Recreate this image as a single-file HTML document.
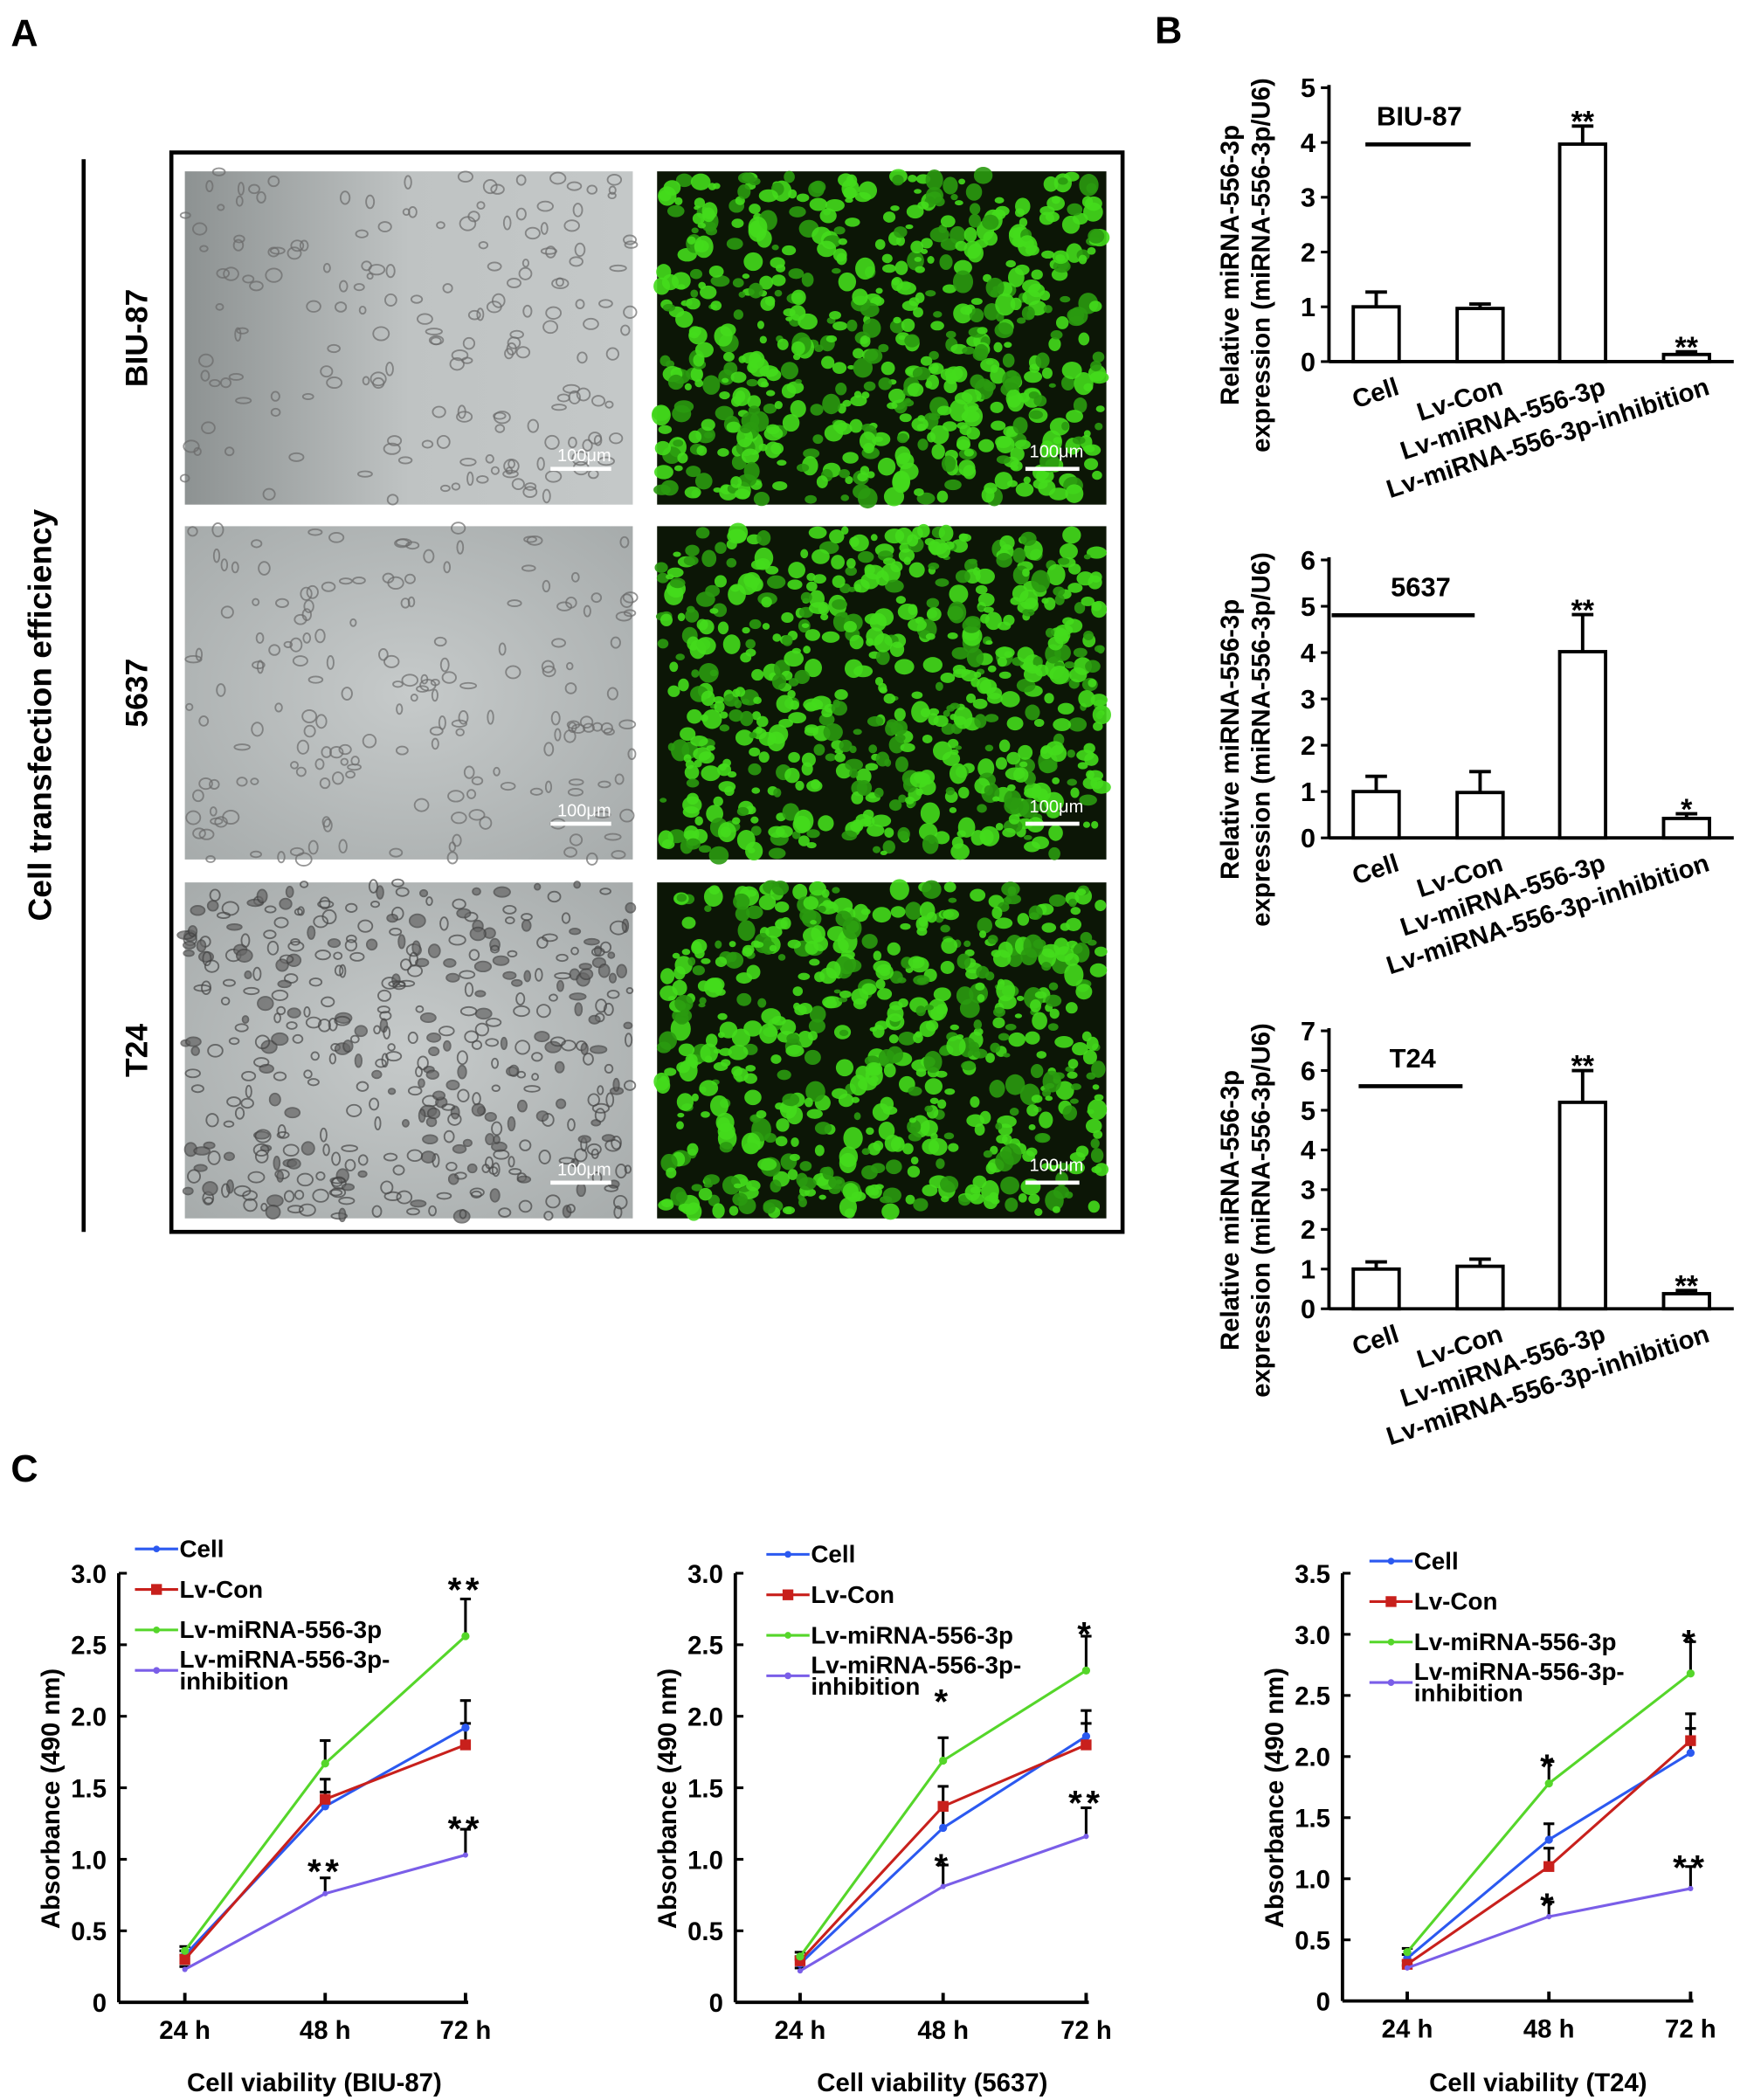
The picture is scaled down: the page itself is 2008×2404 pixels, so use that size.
<!DOCTYPE html>
<html><head><meta charset="utf-8"><style>
html,body{margin:0;padding:0;background:#fff}
svg{display:block;font-family:"Liberation Sans",Arial,sans-serif;font-weight:bold}
</style></head><body>
<svg id="fig" width="2008" height="2404" viewBox="0 0 1300 1556.4" xmlns="http://www.w3.org/2000/svg">
<rect width="1300" height="1556.4" fill="#fff"/>
<g id="panelA"></g>
<g id="panelB"></g>
<g id="panelC"></g>
</svg>
<script>
// ---------- Panel B data ----------
const barCategories = ["Cell","Lv-Con","Lv-miRNA-556-3p","Lv-miRNA-556-3p-inhibition"];
const biuValues = [1.0,0.97,3.97,0.13];
const biuErrors = [0.27,0.08,0.33,0.05];
const biuStars = ["","","**","**"];
const c5637Values = [1.0,0.98,4.02,0.42];
const c5637Errors = [0.33,0.45,0.8,0.1];
const c5637Stars = ["","","**","*"];
const t24Values = [1.0,1.07,5.2,0.38];
const t24Errors = [0.18,0.18,0.8,0.08];
const t24Stars = ["","","**","**"];
const biuTicks = [0,1,2,3,4,5];
const c5637Ticks = [0,1,2,3,4,5,6];
const t24Ticks = [0,1,2,3,4,5,6,7];
// ---------- Panel C data ----------
const timeLabels = ["24 h","48 h","72 h"];
const seriesNames = ["Cell","Lv-Con","Lv-miRNA-556-3p","Lv-miRNA-556-3p-inhibition"];
const biuCell = [0.33,1.37,1.92];
const biuCon = [0.30,1.42,1.80];
const biuMir = [0.36,1.67,2.56];
const biuInh = [0.23,0.76,1.03];
const biuCellErr = [0.03,0.1,0.19];
const biuConErr = [0.03,0.14,0.15];
const biuMirErr = [0.03,0.16,0.26];
const biuInhErr = [0.02,0.11,0.18];
const s5637Cell = [0.27,1.22,1.86];
const s5637Con = [0.29,1.37,1.80];
const s5637Mir = [0.32,1.69,2.32];
const s5637Inh = [0.22,0.81,1.16];
const s5637CellErr = [0.03,0.15,0.18];
const s5637ConErr = [0.03,0.14,0.15];
const s5637MirErr = [0.03,0.16,0.24];
const s5637InhErr = [0.02,0.15,0.2];
const sT24Cell = [0.35,1.32,2.03];
const sT24Con = [0.30,1.10,2.13];
const sT24Mir = [0.40,1.78,2.68];
const sT24Inh = [0.27,0.69,0.92];
const sT24CellErr = [0.03,0.13,0.2];
const sT24ConErr = [0.03,0.15,0.22];
const sT24MirErr = [0.03,0.18,0.26];
const sT24InhErr = [0.02,0.12,0.18];
const ticksC3 = [0,0.5,1.0,1.5,2.0,2.5,3.0];
const ticksC35 = [0,0.5,1.0,1.5,2.0,2.5,3.0,3.5];

const NS="http://www.w3.org/2000/svg";
function mk(parent,tag,attrs,text){const e=document.createElementNS(NS,tag);for(const k in attrs)e.setAttribute(k,attrs[k]);if(text!==undefined)e.textContent=text;parent.appendChild(e);return e;}

// ---------- Panel A ----------
const A=document.getElementById('panelA');
let t=mk(A,'text',{x:8,y:34,'font-size':28},'A');


let l=mk(A,'line',{x1:62,y1:118,x2:62,y2:913,stroke:'#000','stroke-width':3});


t=mk(A,'text',{x:0,y:0,'font-size':24,'text-anchor':'middle',transform:'translate(38,530) rotate(-90)'},'Cell transfection efficiency');


const rowNames=["BIU-87","5637","T24"];
const rowY=[[127,374],[390,637],[654,903]];
let seed=7;function rnd(){seed=(seed*16807)%2147483647;return seed/2147483647;}
const defs=mk(A,'defs',{});
const bg=mk(defs,'radialGradient',{id:'bfg',cx:'0.5',cy:'0.5',r:'0.8'});
mk(bg,'stop',{offset:'0','stop-color':'#c6caca'});mk(bg,'stop',{offset:'1','stop-color':'#a2a7a7'});
const bg2=mk(defs,'linearGradient',{id:'bfg1',x1:'0',y1:'0',x2:'1',y2:'0'});
mk(bg2,'stop',{offset:'0','stop-color':'#8d9292'});mk(bg2,'stop',{offset:'0.5','stop-color':'#bfc3c3'});mk(bg2,'stop',{offset:'1','stop-color':'#c4c8c8'});
rowNames.forEach((n,i)=>{
  const [y0,y1]=rowY[i];const cy=(y0+y1)/2;
  let tt=mk(A,'text',{x:0,y:0,'font-size':23,'text-anchor':'middle',transform:`translate(109,${cy}) rotate(-90)`},n);
  
  
  const g1=mk(A,'g',{});
  
  
  mk(g1,'rect',{x:137,y:y0,width:332,height:y1-y0,fill:i==0?'url(#bfg1)':'url(#bfg)'});
  const dens=i==2?420:180;
  for(let k=0;k<dens;k++){mk(g1,'ellipse',{cx:137+rnd()*332,cy:y0+rnd()*(y1-y0),rx:2+rnd()*4,ry:2+rnd()*3,fill:i==2&&rnd()>0.6?'#666':'none',stroke:i==2?'#444':'#6a6a6a','stroke-width':1.2,opacity:0.7});}
  mk(g1,'rect',{x:408,y:y1-28,width:45,height:3,fill:'#fff'});
  mk(g1,'text',{x:433,y:y1-32,'font-size':13,fill:'#fff','font-weight':'normal','text-anchor':'middle'},'100μm');
  const g2=mk(A,'g',{});
  
  
  mk(g2,'rect',{x:487,y:y0,width:333,height:y1-y0,fill:'#0c1606'});
  for(let k=0;k<650;k++){const r=2.5+rnd()*5;mk(g2,'ellipse',{cx:490+rnd()*327,cy:y0+3+rnd()*(y1-y0-6),rx:r,ry:r*(0.6+rnd()*0.6),fill:rnd()>0.35?'#44dc1c':'#2a9a10',opacity:0.9});}
  mk(g2,'rect',{x:760,y:y1-28,width:40,height:3,fill:'#fff'});
  mk(g2,'text',{x:783,y:y1-35,'font-size':13,fill:'#fff','font-weight':'normal','text-anchor':'middle'},'100μm');
});
let fr=mk(A,'rect',{x:127,y:113,width:705,height:800,fill:'none',stroke:'#000','stroke-width':3});



// ---------- Panel B ----------
const B=document.getElementById('panelB');
t=mk(B,'text',{x:856,y:32,'font-size':28},'B');


const barX=[1020,1097,1173,1250];
function barChart(key,vals,errs,stars,ticks,yBot,yTop,label,labX,labY,lx1,lx2){
  const g=mk(B,'g',{});
  
  
  const max=ticks[ticks.length-1];
  const Y=v=>yBot-(v/max)*(yBot-yTop);
  const X=i=>barX[i];
  mk(g,'line',{x1:985,y1:yTop-2,x2:985,y2:yBot,stroke:'#000','stroke-width':2.5});
  mk(g,'line',{x1:985,y1:yBot,x2:1285,y2:yBot,stroke:'#000','stroke-width':2.5});
  ticks.forEach(v=>{mk(g,'line',{x1:979,y1:Y(v),x2:985,y2:Y(v),stroke:'#000','stroke-width':2});
    const tl=mk(g,'text',{x:975,y:Y(v)+7,'font-size':20,'text-anchor':'end'},String(v));
    
    });
  vals.forEach((v,i)=>{
    const e=Y(v+errs[i]);
    mk(g,'line',{x1:X(i),y1:Y(v),x2:X(i),y2:e,stroke:'#000','stroke-width':2.5});
    mk(g,'line',{x1:X(i)-8,y1:e,x2:X(i)+8,y2:e,stroke:'#000','stroke-width':2.5});
    const b=mk(g,'rect',{x:X(i)-17,y:Y(v),width:34,height:yBot-Y(v),fill:'#fff',stroke:'#000','stroke-width':2.5});
    
    
    if(stars[i]){const s=mk(g,'text',{x:X(i),y:e+4,'font-size':22,'text-anchor':'middle'},stars[i]);
      
      }
    const c=mk(g,'text',{x:0,y:0,'font-size':19,'text-anchor':'end',transform:`translate(${X(i)+18},${yBot+24}) rotate(-18)`},barCategories[i]);
    
    
  });
  const lb=mk(g,'text',{x:labX,y:labY,'font-size':20,'text-anchor':'middle'},label);
  
  
  mk(g,'line',{x1:lx1,y1:labY+14,x2:lx2,y2:labY+14,stroke:'#000','stroke-width':3});
  const cy=(yBot+yTop)/2+30;
  const y1=mk(g,'text',{x:0,y:0,'font-size':19,'text-anchor':'middle',transform:`translate(918,${cy}) rotate(-90)`},'Relative miRNA-556-3p');
  
  
  const y2=mk(g,'text',{x:0,y:0,'font-size':19,'text-anchor':'middle',transform:`translate(941,${cy}) rotate(-90)`},'expression (miRNA-556-3p/U6)');
  
  
}
barChart('biu87',biuValues,biuErrors,biuStars,biuTicks,268,65,'BIU-87',1052,93,1012,1090);
barChart('5637',c5637Values,c5637Errors,c5637Stars,c5637Ticks,621,415,'5637',1053,442,987,1093);
barChart('t24',t24Values,t24Errors,t24Stars,t24Ticks,970,764,'T24',1047,791,1007,1084);

// ---------- Panel C ----------
const C=document.getElementById('panelC');
t=mk(C,'text',{x:8,y:1098,'font-size':28},'C');


const colors=['#2b59f0','#c8201c','#55d62a','#7a5ee8'];
function lineChart(key,series,errs,ticks,ax,xt,yBot,yTop,legX,legY,title,stars){
  const g=mk(C,'g',{});
  
  
  const max=ticks[ticks.length-1];
  const Y=v=>yBot-(v/max)*(yBot-yTop);
  const X=i=>xt[0]+i*(xt[1]-xt[0]);
  mk(g,'line',{x1:ax,y1:yTop,x2:ax,y2:yBot,stroke:'#000','stroke-width':2.5});
  mk(g,'line',{x1:ax,y1:yBot,x2:X(2)+2,y2:yBot,stroke:'#000','stroke-width':2.5});
  ticks.forEach(v=>{mk(g,'line',{x1:ax,y1:Y(v),x2:ax+6,y2:Y(v),stroke:'#000','stroke-width':2});
    const tl=mk(g,'text',{x:ax-9,y:Y(v)+7,'font-size':19,'text-anchor':'end'},v===0?'0':v.toFixed(1));
    
    });
  timeLabels.forEach((s,i)=>{mk(g,'line',{x1:X(i),y1:yBot,x2:X(i),y2:yBot-7,stroke:'#000','stroke-width':2.5});
    const tl=mk(g,'text',{x:X(i),y:yBot+27,'font-size':19,'text-anchor':'middle'},s);
    
    });
  series.forEach((d,si)=>{
    d.forEach((v,i)=>{const e=Y(v+errs[si][i]);mk(g,'line',{x1:X(i),y1:Y(v),x2:X(i),y2:e,stroke:'#000','stroke-width':2});mk(g,'line',{x1:X(i)-4,y1:e,x2:X(i)+4,y2:e,stroke:'#000','stroke-width':2});});
  });
  series.forEach((d,si)=>{
    const p=mk(g,'polyline',{points:d.map((v,i)=>X(i)+','+Y(v)).join(' '),fill:'none',stroke:colors[si],'stroke-width':2});
    
    
    d.forEach((v,i)=>{const m=si==1?mk(g,'rect',{x:X(i)-4,y:Y(v)-4,width:8,height:8,fill:colors[si]}):mk(g,'circle',{cx:X(i),cy:Y(v),r:si==3?2:3,fill:colors[si]});
      
      });
  });
  stars.forEach(s=>{const st=mk(g,'text',{x:X(s[0]),y:s[1],'font-size':26,'text-anchor':'middle','letter-spacing':3},s[2]);
    
    });
  seriesNames.forEach((n,si)=>{
    const ly=legY+si*30;
    const ln=mk(g,'line',{x1:legX,y1:ly,x2:legX+32,y2:ly,stroke:colors[si],'stroke-width':2});
    
    
    if(si==1)mk(g,'rect',{x:legX+12,y:ly-4,width:8,height:8,fill:colors[si]});else mk(g,'circle',{cx:legX+16,cy:ly,r:2.5,fill:colors[si]});
    if(si<3){const lt=mk(g,'text',{x:legX+33,y:ly+6,'font-size':18},n);
      
      }
    else{const lt=mk(g,'text',{x:legX+33,y:ly-2,'font-size':18},'Lv-miRNA-556-3p-');
      
      
      mk(g,'text',{x:legX+33,y:ly+14,'font-size':18},'inhibition');}
  });
  const yt=mk(g,'text',{x:0,y:0,'font-size':19,'text-anchor':'middle',transform:`translate(${ax-44},${(yBot+yTop)/2+8}) rotate(-90)`},'Absorbance (490 nm)');
  
  
  const xtl=mk(g,'text',{x:X(1)-8,y:1550,'font-size':19,'text-anchor':'middle'},title);
  
  
}
lineChart('biu87',[biuCell,biuCon,biuMir,biuInh],[biuCellErr,biuConErr,biuMirErr,biuInhErr],ticksC3,88,[137,241],1484,1166,100,1148,'Cell viability (BIU-87)',
  [[1,1396,'**'],[2,1187,'**'],[2,1364,'**']]);
lineChart('5637',[s5637Cell,s5637Con,s5637Mir,s5637Inh],[s5637CellErr,s5637ConErr,s5637MirErr,s5637InhErr],ticksC3,545,[593,699],1484,1166,568,1152,'Cell viability (5637)',
  [[1,1270,'*'],[2,1220,'*'],[1,1392,'*'],[2,1345,'**']]);
lineChart('t24',[sT24Cell,sT24Con,sT24Mir,sT24Inh],[sT24CellErr,sT24ConErr,sT24MirErr,sT24InhErr],ticksC35,995,[1043,1148],1483,1166,1015,1157,'Cell viability (T24)',
  [[1,1318,'*'],[2,1226,'*'],[1,1421,'*'],[2,1393,'**']]);
</script>
</body></html>
